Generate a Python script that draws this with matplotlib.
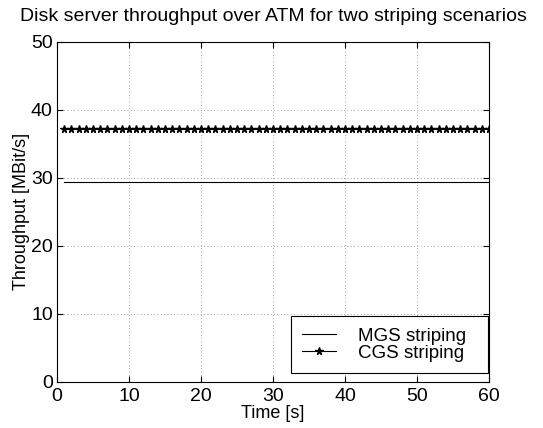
import numpy as np
import matplotlib.pyplot as plt

plt.rcParams['font.family'] = ['Liberation Sans', 'DejaVu Sans']

# data
time_s = np.arange(1, 61)
mgs_throughput = [29.3] * len(time_s)
cgs_throughput = [37.1] * len(time_s)

fig = plt.figure(figsize=(5.43, 4.28), dpi=100)
ax = fig.add_axes([0.105, 0.1075, 0.7956, 0.7955])

ax.plot(time_s, mgs_throughput, color='black', linewidth=0.8, label='MGS striping  ')
ax.plot(time_s, cgs_throughput, color='black', linewidth=0.8, marker='*',
        markersize=5.5, label='CGS striping  ')

ax.set_xlim(0, 60)
ax.set_ylim(0, 50)
ax.set_xticks(range(0, 61, 10))
ax.set_yticks(range(0, 51, 10))
ax.tick_params(direction='in', labelsize=14, length=4, top=True, right=True)
ax.tick_params(axis='x', pad=4)
ax.tick_params(axis='y', pad=3)
ax.grid(True, linestyle=(0, (1, 3)), color='#888888', linewidth=0.6)
for s in ax.spines.values():
    s.set_linewidth(0.8)

ax.set_xlabel('Time [s]', fontsize=13, labelpad=0)
ax.set_ylabel('Throughput [MBit/s]', fontsize=13, labelpad=1)
ax.set_title('Disk server throughput over ATM for two striping scenarios', fontsize=14, pad=15)

leg = ax.legend(loc='lower right', fontsize=13.5, fancybox=False, framealpha=1,
                edgecolor='black', handlelength=1.8, borderpad=0.6,
                labelspacing=0.0, handletextpad=1.2, borderaxespad=0,
                bbox_to_anchor=(0.998, 0.026))
leg.get_frame().set_linewidth(0.8)

fig.savefig('out.png', dpi=100)
